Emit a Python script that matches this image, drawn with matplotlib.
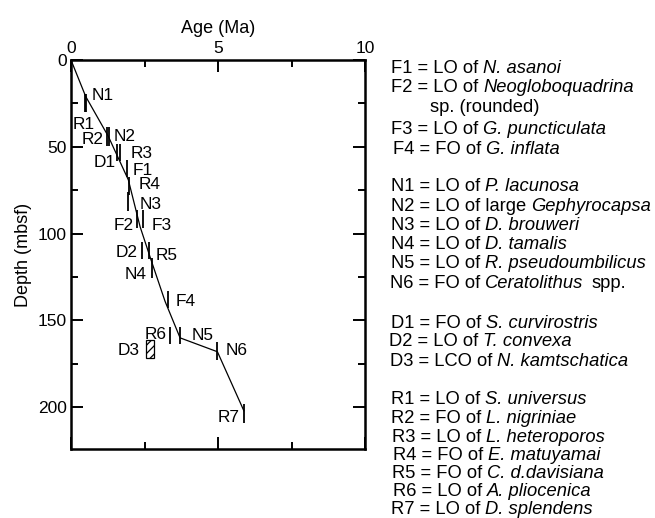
import matplotlib
matplotlib.use("Agg")
import matplotlib.pyplot as plt
from matplotlib.ticker import MultipleLocator

plt.rcParams["font.family"] = ["Liberation Sans", "DejaVu Sans"]
plt.rcParams["hatch.linewidth"] = 0.9

# age-depth curve (Ma, mbsf)
line_age = [0, 0.5, 1.27, 1.95, 2.35, 2.74, 3.2, 3.71, 4.98, 5.88]
line_depth = [0, 21, 44, 69, 96, 116, 139, 160, 168, 202]

# datum events: age and depth range of the sample interval
event_names = ["N1", "R1", "R2", "N2", "D1", "R3", "F1", "R4", "N3", "F2",
               "F3", "D2", "R5", "N4", "F4", "R6", "N5", "N6", "R7"]
event_age = [0.50, 0.48, 1.21, 1.29, 1.55, 1.68, 1.89, 1.96, 1.93, 2.23,
             2.46, 2.43, 2.65, 2.74, 3.31, 3.37, 3.71, 4.98, 5.88]
event_top = [19.8, 19.8, 38.5, 38.5, 48.6, 48.6, 57.7, 67.3, 75.9, 86.5,
             86.5, 104.7, 104.7, 114.3, 133.0, 153.7, 153.7, 162.3, 197.8]
event_bot = [29.8, 29.8, 49.4, 49.4, 58.2, 58.2, 67.3, 77.8, 87.0, 97.0,
             97.0, 114.7, 114.7, 125.8, 143.0, 163.3, 163.3, 173.0, 209.0]

# D3 (LCO) age range and depth range
d3_age = [2.55, 2.83]
d3_depth = [161.0, 171.5]

# label offsets in points from marker centre
label_dx = [12.1, -1.3, -9.8, 11.6, -8.4, 15.6, 11.7, 15.2, 16.6, -9.6,
            13.0, -11.6, 12.8, -11.4, 12.2, -10.5, 16.5, 13.9, -10.9]
label_dy = [6.5, -14.6, -1.1, 0.9, -6.0, 0.4, 0.0, 1.8, -1.4, -3.0,
            -3.0, -0.7, -2.2, -3.6, -0.4, 1.3, 1.0, 1.4, -2.2]

# key text
key_codes = ["F1", "F2", "", "F3", "F4",
             "N1", "N2", "N3", "N4", "N5", "N6",
             "D1", "D2", "D3",
             "R1", "R2", "R3", "R4", "R5", "R6", "R7"]
key_kind = ["LO of", "LO of", "", "LO of", "FO of",
            "LO of", "LO of large", "LO of", "LO of", "LO of", "FO of",
            "FO of", "LO of", "LCO of",
            "LO of", "FO of", "LO of", "FO of", "FO of", "LO of", "LO of"]
key_taxon = ["N. asanoi", "Neogloboquadrina", "", "G. puncticulata", "G. inflata",
             "P. lacunosa", "Gephyrocapsa", "D. brouweri", "D. tamalis",
             "R. pseudoumbilicus", "Ceratolithus",
             "S. curvirostris", "T. convexa", "N. kamtschatica",
             "S. universus", "L. nigriniae", "L. heteroporos", "E. matuyamai",
             "C. d.davisiana", "A. pliocenica", "D. splendens"]
key_suffix = ["", "", "sp. (rounded)", "", "", "", "", "", "", "", "spp.",
              "", "", "", "", "", "", "", "", "", ""]
key_x = [391, 391, 430, 391, 393, 391, 391, 391, 391, 391, 390,
         391, 389, 390, 391, 391, 392, 393, 392, 393, 391]
key_y = [66.7, 85.5, 105, 127, 148, 184.5, 204.5, 223.5, 242.5, 261.5, 281,
         321.7, 340, 359, 398, 416.7, 435, 453, 471.7, 490, 507.5]

W, H = 655, 518
KEY_FS = 13.2
LAB_FS = 12.4

fig = plt.figure(figsize=(W / 100, H / 100), dpi=100)
ax = fig.add_axes([71 / W, 1 - 449 / H, (365 - 71) / W, (449 - 60) / H])

ax.plot(line_age, line_depth, color="black", lw=0.9)
ax.vlines(event_age, event_top, event_bot, color="black", lw=1.3)
ax.bar((d3_age[0] + d3_age[1]) / 2, d3_depth[1] - d3_depth[0], width=d3_age[1] - d3_age[0],
       bottom=d3_depth[0], facecolor="white", edgecolor="black", hatch="////", lw=0.9)

for name, a, t, b, dx, dy in zip(event_names, event_age, event_top, event_bot, label_dx, label_dy):
    ax.annotate(name, (a, (t + b) / 2), xytext=(dx, dy), textcoords="offset points",
                ha="center", va="center_baseline", fontsize=LAB_FS)
ax.annotate("D3", (sum(d3_age) / 2, sum(d3_depth) / 2), xytext=(-15.8, -0.4),
            textcoords="offset points", ha="center", va="center_baseline", fontsize=LAB_FS)

ax.set_xlim(0, 10)
ax.set_ylim(224, 0)
ax.xaxis.set_major_locator(MultipleLocator(5))
ax.xaxis.set_minor_locator(MultipleLocator(2.5))
ax.yaxis.set_major_locator(MultipleLocator(50))
ax.yaxis.set_minor_locator(MultipleLocator(25))
ax.tick_params(which="both", direction="in", top=True, bottom=True, left=True, right=True,
               labeltop=True, labelbottom=False, width=1.4, labelsize=12.5, pad=3)
ax.tick_params(which="major", length=8.5)
ax.tick_params(which="minor", length=5)
for sp in ax.spines.values():
    sp.set_linewidth(1.8)

ax.xaxis.set_label_position("top")
ax.set_xlabel("Age (Ma)", fontsize=13, labelpad=6)
ax.set_ylabel("Depth (mbsf)", fontsize=13, labelpad=4)

# key: plain part, italic taxon, plain suffix placed one after another
renderer = fig.canvas.get_renderer()
space = 0.278 * KEY_FS * 100 / 72
for code, kind, taxon, suffix, x, y in zip(key_codes, key_kind, key_taxon, key_suffix, key_x, key_y):
    yf = 1 - y / H
    xpos = x
    if code:
        t = fig.text(xpos / W, yf, f"{code} = {kind}", ha="left", va="center_baseline",
                     fontsize=KEY_FS)
        xpos = t.get_window_extent(renderer).x1 + space
        t = fig.text(xpos / W, yf, taxon, ha="left", va="center_baseline",
                     fontsize=KEY_FS, style="italic")
        xpos = t.get_window_extent(renderer).x1 + 1.5 * space
    if suffix:
        fig.text(xpos / W, yf, suffix, ha="left", va="center_baseline", fontsize=KEY_FS)

fig.savefig("out.png", dpi=100)
